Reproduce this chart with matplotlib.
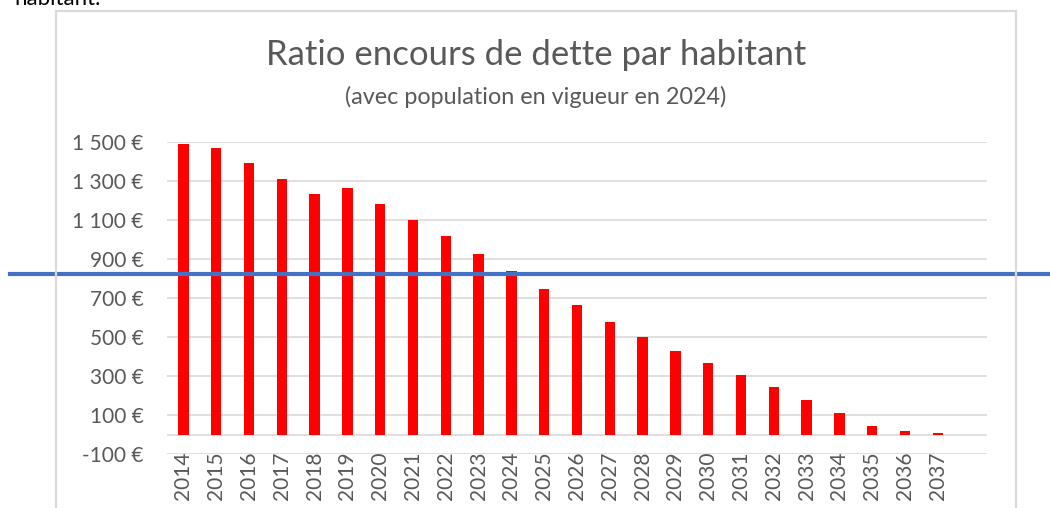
import matplotlib.pyplot as plt
from matplotlib.patches import Rectangle
from matplotlib.transforms import blended_transform_factory

plt.rcParams['font.family'] = ['Lato', 'DejaVu Sans']

years = [str(y) for y in range(2014, 2038)]
ratio = [1490, 1469, 1392, 1312, 1236, 1264, 1185, 1101, 1017, 928, 839, 747,
         663, 577, 502, 429, 367, 304, 242, 176, 109, 44, 16, 8]
yticks = [-100, 100, 300, 500, 700, 900, 1100, 1300, 1500]
ytick_labels = ['-100 €', '100 €', '300 €', '500 €', '700 €', '900 €',
                '1 100 €', '1 300 €', '1 500 €']
threshold = 822  # horizontal reference line (blue)

W, H = 1050, 508
fig = plt.figure(figsize=(W / 100, H / 100), dpi=100)
ax = fig.add_axes([167 / W, (H - 454) / H, (987 - 167) / W, (454 - 142.3) / H])

grey = '#d9d9d9'
txt = '#595959'

# grid + axis line at zero
for v in yticks:
    ax.axhline(v, color=grey, lw=1.2, zorder=0)
ax.axhline(0, color=grey, lw=1.2, zorder=0)

ax.bar(range(len(years)), ratio, width=0.32, color='#ff0000', zorder=2)

ax.set_xlim(-0.5, len(years) + 0.5)
ax.set_ylim(-100, 1500)
ax.set_yticks(yticks)
ax.set_yticklabels(ytick_labels, fontsize=15, color=txt)
ax.set_xticks(range(len(years)))
ax.set_xticklabels(years, rotation=90, fontsize=15, color=txt)
ax.tick_params(axis='both', length=0)
ax.tick_params(axis='y', pad=17)
ax.tick_params(axis='x', pad=-2)
for s in ax.spines.values():
    s.set_visible(False)

# chart frame (cut at the bottom of the image)
fig.patches.append(Rectangle((56 / W, -0.1), (1016 - 56) / W, (H - 11) / H + 0.1,
                             transform=fig.transFigure, fill=False,
                             edgecolor=grey, lw=1.6, zorder=0))

fig.text(536 / W, (H - 55) / H, 'Ratio encours de dette par habitant',
         ha='center', va='center', fontsize=25, color=txt)
fig.text(536 / W, (H - 97) / H, '(avec population en vigueur en 2024)',
         ha='center', va='center', fontsize=16.8, color=txt)

# partial text from the page above
fig.text(101 / W, (H - 5) / H, 'habitant.', ha='right', va='baseline',
         fontsize=16, color='black')

# blue reference line spanning beyond the chart
tr = blended_transform_factory(fig.transFigure, ax.transData)
ax.plot([10 / W, 1.0], [threshold, threshold], transform=tr, color='#4472c4',
        lw=3, clip_on=False, zorder=5)

fig.savefig('out.png', dpi=100)
